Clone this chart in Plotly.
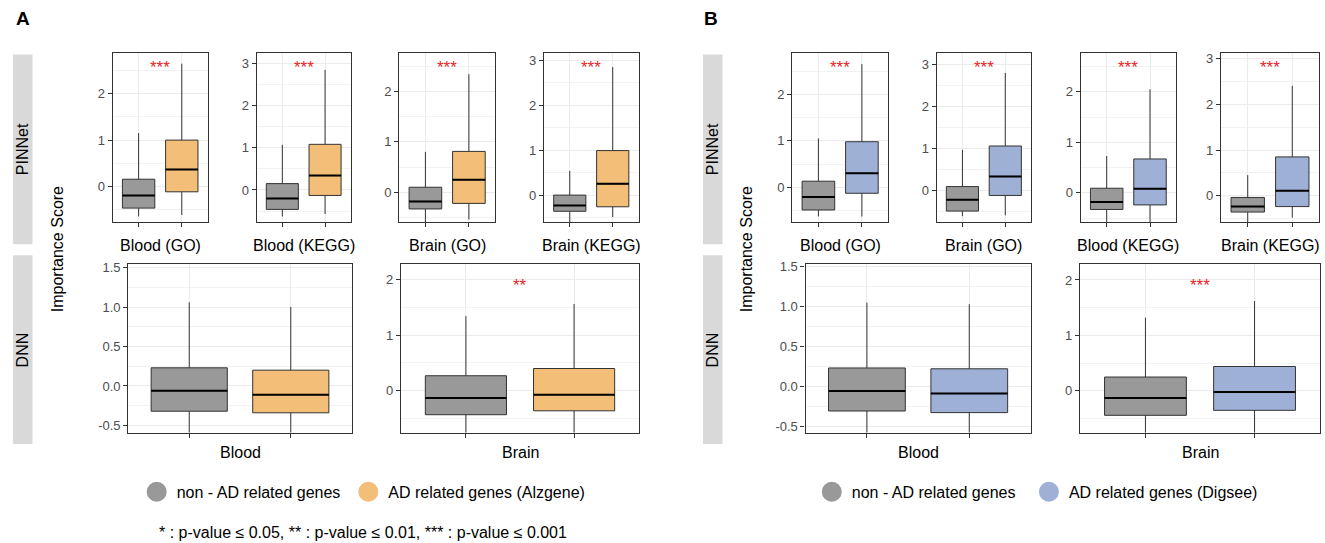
import plotly.graph_objects as go

# ---------------- data ----------------
cats = ["non-AD", "AD"]
groups_A = ["Blood (GO)", "Blood (KEGG)", "Brain (GO)", "Brain (KEGG)"]
groups_B = ["Blood (GO)", "Brain (GO)", "Blood (KEGG)", "Brain (KEGG)"]
tissues = ["Blood", "Brain"]

# five-number summaries: [lower whisker, Q1, median, Q3, upper whisker]
A_pin_non = [[-0.64, -0.46, -0.19, 0.16, 1.15],
             [-0.63, -0.46, -0.20, 0.15, 1.07],
             [-0.65, -0.33, -0.18, 0.10, 0.80],
             [-0.65, -0.36, -0.23, 0.00, 0.54]]
A_pin_ad = [[-0.61, -0.11, 0.37, 1.00, 2.64],
            [-0.57, -0.13, 0.34, 1.08, 2.84],
            [-0.54, -0.22, 0.25, 0.81, 2.34],
            [-0.49, -0.26, 0.25, 0.99, 2.85]]
A_dnn_non = [[-0.65, -0.32, -0.06, 0.23, 1.06],
             [-0.80, -0.43, -0.13, 0.27, 1.34]]
A_dnn_ad = [[-0.65, -0.34, -0.11, 0.20, 1.00],
            [-0.80, -0.36, -0.07, 0.40, 1.56]]

B_pin_non = [[-0.63, -0.49, -0.21, 0.13, 1.05],
             [-0.60, -0.48, -0.21, 0.10, 0.97],
             [-0.62, -0.33, -0.18, 0.09, 0.73],
             [-0.62, -0.36, -0.24, -0.04, 0.45]]
B_pin_ad = [[-0.63, -0.13, 0.30, 0.98, 2.65],
            [-0.58, -0.11, 0.34, 1.06, 2.79],
            [-0.62, -0.24, 0.08, 0.67, 2.05],
            [-0.48, -0.24, 0.11, 0.85, 2.41]]
B_dnn_non = [[-0.65, -0.31, -0.06, 0.23, 1.05],
             [-0.80, -0.44, -0.13, 0.25, 1.32]]
B_dnn_ad = [[-0.65, -0.33, -0.09, 0.22, 1.03],
            [-0.80, -0.35, -0.02, 0.44, 1.62]]

sig_A_pin = ["***", "***", "***", "***"]
sig_A_dnn = ["", "**"]
sig_B_pin = ["***", "***", "***", "***"]
sig_B_dnn = ["", "***"]

legend_A = ["non - AD related genes", "AD related genes (Alzgene)"]
legend_B = ["non - AD related genes", "AD related genes (Digsee)"]
footnote = "* : p-value \u2264 0.05, ** : p-value \u2264 0.01, *** : p-value \u2264 0.001"

blood_ticks = [-0.5, 0.0, 0.5, 1.0, 1.5]
blood_ticktext = ["-0.5", "0.0", "0.5", "1.0", "1.5"]

# ---------------- styling ----------------
W, H = 1325, 543
FONT = "Liberation Sans, Arial, sans-serif"
GRAY = "#999999"
ORANGE = "#F3BE77"
BLUE = "#9EB0D6"
EDGE = "#333333"
GRID = "#EBEBEB"
MINOR = "#F2F2F2"
RED = "#E3262A"


def xd(a, b):
    return [a / W, b / W]


def yd(top, bottom):
    return [1 - bottom / H, 1 - top / H]


TOP = (49, 219.5)
BOT = (262.3, 432.3)

specs = []
A_top_x = [(112.7, 207.7), (256.7, 350.7), (399.3, 495), (544, 638.5)]
A_top_rng = [[-0.76, 2.86], [-0.76, 3.23], [-0.59, 2.75], [-0.60, 3.15]]
for k in range(4):
    specs.append(dict(xp=A_top_x[k], yp=TOP, rng=A_top_rng[k], non=A_pin_non[k], ad=A_pin_ad[k],
                      col=ORANGE, label=groups_A[k], sig=sig_A_pin[k], row="top", dt=1))
A_bot_x = [(128.3, 351.7), (401, 639)]
A_bot_rng = [[-0.59, 1.54], [-0.75, 2.27]]
for k in range(2):
    specs.append(dict(xp=A_bot_x[k], yp=BOT, rng=A_bot_rng[k], non=A_dnn_non[k], ad=A_dnn_ad[k],
                      col=ORANGE, label=tissues[k], sig=sig_A_dnn[k], row="bot", dt=0.5 if k == 0 else 1))
B_top_x = [(792.3, 888), (936.7, 1031), (1080.7, 1176), (1221, 1319)]
B_top_rng = [[-0.75, 2.88], [-0.74, 3.25], [-0.58, 2.76], [-0.58, 3.12]]
for k in range(4):
    specs.append(dict(xp=B_top_x[k], yp=TOP, rng=B_top_rng[k], non=B_pin_non[k], ad=B_pin_ad[k],
                      col=BLUE, label=groups_B[k], sig=sig_B_pin[k], row="top", dt=1))
B_bot_x = [(805.5, 1030.7), (1080, 1320)]
B_bot_rng = [[-0.58, 1.53], [-0.75, 2.28]]
for k in range(2):
    specs.append(dict(xp=B_bot_x[k], yp=BOT, rng=B_bot_rng[k], non=B_dnn_non[k], ad=B_dnn_ad[k],
                      col=BLUE, label=tissues[k], sig=sig_B_dnn[k], row="bot", dt=0.5 if k == 0 else 1))

fig = go.Figure()
layout = dict(
    width=W, height=H, margin=dict(l=0, r=0, t=0, b=0),
    paper_bgcolor="white", plot_bgcolor="white",
    font=dict(family=FONT, color="black"),
    boxmode="overlay",
)
annotations = []
shapes = []


def add_box(cat, s, fill, ax, ay):
    fig.add_trace(go.Box(
        x=[cat], lowerfence=[s[0]], q1=[s[1]], median=[s[2]], q3=[s[3]], upperfence=[s[4]],
        fillcolor=fill, line=dict(color=EDGE, width=1), whiskerwidth=0, width=0.75,
        boxpoints=False, showlegend=False, hoverinfo="skip", xaxis=ax, yaxis=ay))
    # thicker black median line
    fig.add_trace(go.Box(
        x=[cat], lowerfence=[s[2]], q1=[s[2]], median=[s[2]], q3=[s[2]], upperfence=[s[2]],
        fillcolor="rgba(0,0,0,0)", line=dict(color="black", width=2), whiskerwidth=0, width=0.75,
        boxpoints=False, showlegend=False, hoverinfo="skip", xaxis=ax, yaxis=ay))


for i, sp in enumerate(specs, start=1):
    ax = "x" if i == 1 else f"x{i}"
    ay = "y" if i == 1 else f"y{i}"
    add_box(cats[0], sp["non"], GRAY, ax, ay)
    add_box(cats[1], sp["ad"], sp["col"], ax, ay)
    xname = "xaxis" if i == 1 else f"xaxis{i}"
    yname = "yaxis" if i == 1 else f"yaxis{i}"
    layout[xname] = dict(
        domain=xd(*sp["xp"]), anchor=ay, type="category", categoryarray=cats,
        categoryorder="array", range=[-0.6, 1.6], showticklabels=False,
        ticks="outside", ticklen=4, tickwidth=1, tickcolor=EDGE,
        showgrid=True, gridcolor=GRID, gridwidth=1, zeroline=False,
        showline=True, mirror=True, linecolor=EDGE, linewidth=1.2, fixedrange=True)
    yax = dict(
        domain=yd(*sp["yp"]), anchor=ax, range=sp["rng"],
        ticks="outside", ticklen=4, tickwidth=1, tickcolor=EDGE,
        tickfont=dict(size=13, color="#4D4D4D", family=FONT),
        showgrid=True, gridcolor=GRID, gridwidth=1, zeroline=False,
        showline=True, mirror=True, linecolor=EDGE, linewidth=1.2, fixedrange=True,
        minor=dict(dtick=sp["dt"] / 2, tick0=0, showgrid=True, gridcolor=MINOR, gridwidth=1, ticks=""))
    if sp["dt"] == 0.5:
        yax.update(tickmode="array", tickvals=blood_ticks, ticktext=blood_ticktext)
    else:
        yax.update(dtick=1, tick0=0)
    layout[yname] = yax
    annotations.append(dict(
        text=sp["label"], xref=f"{ax} domain", yref=f"{ay} domain", x=0.5, y=0,
        yshift=-23 if sp["row"] == "top" else -20, yanchor="middle", xanchor="center",
        showarrow=False, font=dict(size=16, color="black", family=FONT)))
    if sp["sig"]:
        annotations.append(dict(
            text=sp["sig"], xref=f"{ax} domain", yref=f"{ay} domain", x=0.5, y=1,
            yshift=-14 if sp["row"] == "top" else -21, yanchor="middle", xanchor="center",
            showarrow=False, font=dict(size=17, color=RED, family=FONT)))

for sx, ysx, lab in [(13, 57, "A"), (703, 746, "B")]:
    for (t, b), name in [((50, 242), "PINNet"), ((253, 444), "DNN")]:
        shapes.append(dict(type="rect", xref="paper", yref="paper",
                           x0=sx / W, x1=(sx + 19.5) / W, y0=1 - b / H, y1=1 - t / H,
                           fillcolor="#D9D9D9", line=dict(width=0), layer="below"))
        annotations.append(dict(text=name, xref="paper", yref="paper", x=(sx + 9.75) / W,
                                y=1 - (t + b) / 2 / H, textangle=-90, showarrow=False,
                                xanchor="center", yanchor="middle",
                                font=dict(size=16, color="black", family=FONT)))
    annotations.append(dict(text="Importance Score", xref="paper", yref="paper", x=ysx / W,
                            y=1 - 247 / H, textangle=-90, showarrow=False, xanchor="center",
                            yanchor="middle", font=dict(size=16, color="black", family=FONT)))

annotations.append(dict(text="<b>A</b>", xref="paper", yref="paper", x=23 / W, y=1 - 14 / H,
                        showarrow=False, xanchor="center", yanchor="middle",
                        font=dict(size=19, color="black", family=FONT)))
annotations.append(dict(text="<b>B</b>", xref="paper", yref="paper", x=711 / W, y=1 - 14 / H,
                        showarrow=False, xanchor="center", yanchor="middle",
                        font=dict(size=19, color="black", family=FONT)))
annotations.append(dict(text=footnote, xref="paper", yref="paper", x=156.7 / W, y=1 - 533 / H,
                        showarrow=False, xanchor="left", yanchor="middle",
                        font=dict(size=16, color="black", family=FONT)))

leg_items = [(legend_A[0], GRAY, 156.7, "legend"), (legend_A[1], ORANGE, 368.3, "legend2"),
             (legend_B[0], GRAY, 831.8, "legend3"), (legend_B[1], BLUE, 1048.9, "legend4")]
for name, col, cx, lg in leg_items:
    fig.add_trace(go.Scatter(x=[None], y=[None], mode="markers", name=name, legend=lg,
                             marker=dict(size=16, color=col, line=dict(color=col, width=4)),
                             showlegend=True, hoverinfo="skip"))
    layout[lg] = dict(x=(cx - 20) / W, y=1 - 492.3 / H, xanchor="left", yanchor="middle",
                      orientation="h", bgcolor="rgba(0,0,0,0)", borderwidth=0,
                      itemsizing="trace", font=dict(size=16, color="black", family=FONT))

layout["annotations"] = annotations
layout["shapes"] = shapes
fig.update_layout(**layout)

pin_page = (
    "document.body.style.margin='0px';document.body.style.padding='0px';"
    "document.body.style.overflow='hidden';"
    "var gd=document.getElementById('{plot_id}');"
    "gd.style.position='fixed';gd.style.left='0px';gd.style.top='0px';"
)
fig.write_html("out.html", post_script=pin_page, config={"displayModeBar": False})
